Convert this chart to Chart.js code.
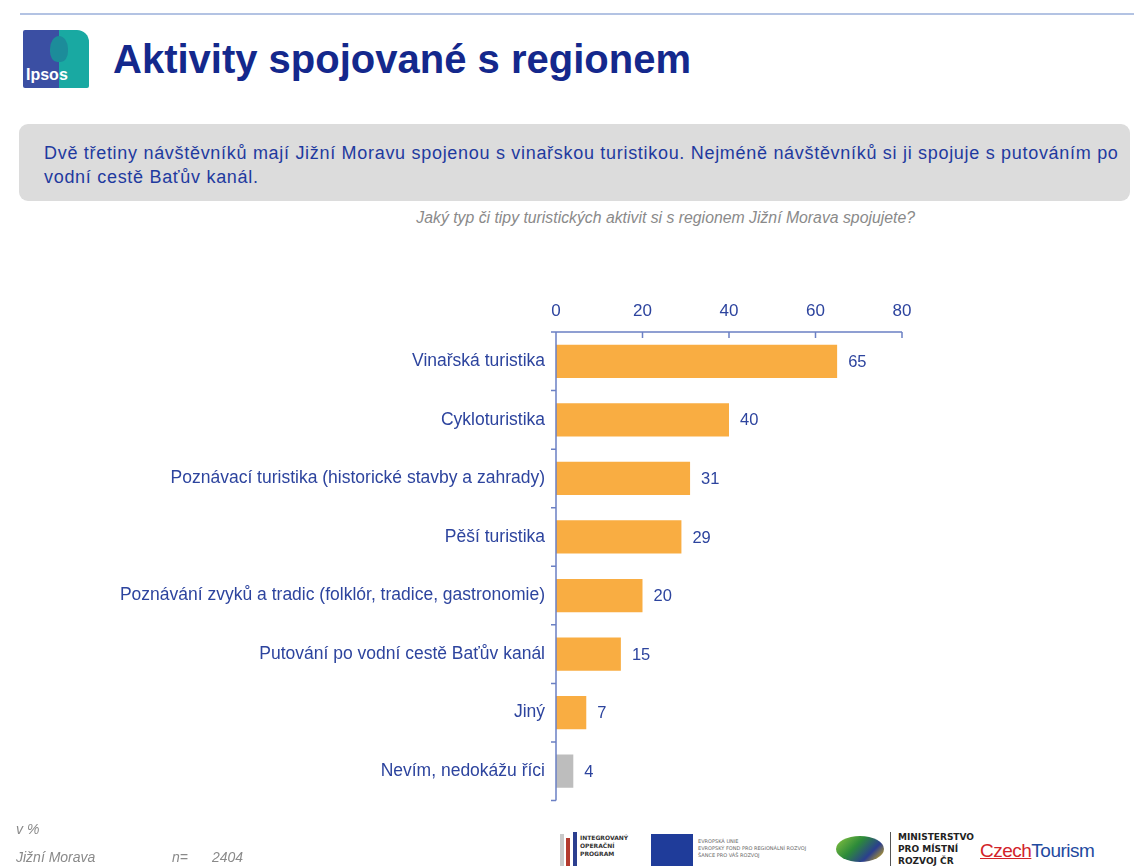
<!DOCTYPE html>
<html>
<head>
<meta charset="utf-8">
<script src="https://cdn.jsdelivr.net/npm/chart.js@4.4.1/dist/chart.umd.min.js"></script>
<style>
  html,body{margin:0;padding:0;background:#fff;width:1134px;height:866px;overflow:hidden;font-family:"Liberation Sans",Arial,sans-serif;}
  .abs{position:absolute;}
  #topline{left:20px;top:13px;width:1114px;height:2px;background:#b3c3e3;}
  #logo{left:23px;top:30px;width:66px;height:58px;overflow:hidden;border-radius:2px 12px 2px 2px;}
  #logo .l{position:absolute;left:0;top:0;width:36px;height:58px;background:#3b4fa3;}
  #logo .r{position:absolute;left:36px;top:0;width:30px;height:58px;background:#19a9a2;}
  #logo .h{position:absolute;left:27px;top:6px;width:18px;height:26px;border-radius:50% 50% 40% 40%;background:#1c8c9a;}
  #logo .t{position:absolute;left:3px;top:36px;color:#fff;font:bold 16px "Liberation Sans",Arial;}
  #title{left:113px;top:37px;font:bold 40px "Liberation Sans",Arial;color:#14288c;white-space:nowrap;}
  #box{left:19px;top:124px;width:1111px;height:77px;background:#dcdcdc;border-radius:9px;}
  #boxtext{left:44px;top:141px;width:1080px;font:18px "Liberation Sans",Arial;letter-spacing:0.7px;color:#1f3a9f;line-height:24px;}
  #question{left:300px;top:209px;width:615px;text-align:right;font:italic 15.8px "Liberation Sans",Arial;color:#8a8a8a;white-space:nowrap;}
  #chartwrap{left:0;top:290px;width:1134px;height:532px;}
  .foot{font:italic 14px "Liberation Sans",Arial;color:#8a8a8a;white-space:nowrap;}
</style>
</head>
<body>
<div class="abs" id="topline"></div>
<div class="abs" id="logo"><div class="l"></div><div class="r"></div><div class="h"></div><div class="t">Ipsos</div></div>
<div class="abs" id="title">Aktivity spojované s regionem</div>
<div class="abs" id="box"></div>
<div class="abs" id="boxtext">Dvě třetiny návštěvníků mají Jižní Moravu spojenou s vinařskou turistikou. Nejméně návštěvníků si ji spojuje s putováním po vodní cestě Baťův kanál.</div>
<div class="abs" id="question">Jaký typ či tipy turistických aktivit si s regionem Jižní Morava spojujete?</div>
<div class="abs" id="chartwrap"><canvas id="c" width="1134" height="532"></canvas></div>

<div class="abs foot" style="left:16px;top:821px;">v %</div>
<div class="abs foot" style="left:16px;top:849px;">Jižní Morava</div>
<div class="abs foot" style="left:172px;top:849px;">n=</div>
<div class="abs foot" style="left:212px;top:849px;">2404</div>

<!-- partner logos (approximate) -->
<div class="abs" style="left:560px;top:834px;width:4px;height:32px;background:#c9c9c9;"></div>
<div class="abs" style="left:566px;top:838px;width:4px;height:28px;background:#b33a2e;"></div>
<div class="abs" style="left:573px;top:832px;width:4px;height:34px;background:#2c3f8f;"></div>
<div class="abs" style="left:580px;top:834px;font:bold 6px 'DejaVu Sans';color:#333;line-height:8px;">INTEGROVANÝ<br>OPERAČNÍ<br>PROGRAM</div>
<div class="abs" style="left:651px;top:834px;width:42px;height:32px;background:#1f3c9a;"></div>
<div class="abs" style="left:698px;top:838px;font:5px 'DejaVu Sans';color:#666;line-height:7px;white-space:nowrap;">EVROPSKÁ UNIE<br>EVROPSKÝ FOND PRO REGIONÁLNÍ ROZVOJ<br>ŠANCE PRO VÁŠ ROZVOJ</div>
<div class="abs" style="left:836px;top:836px;width:48px;height:26px;border-radius:50%;background:linear-gradient(135deg,#8cc63f 0%,#2c8a3a 40%,#2b3f8f 70%,#f2c200 100%);"></div>
<div class="abs" style="left:890px;top:832px;width:1px;height:34px;background:#555;"></div>
<div class="abs" style="left:898px;top:831px;font:bold 9px 'DejaVu Sans';color:#222;line-height:12px;white-space:nowrap;">MINISTERSTVO<br>PRO MÍSTNÍ<br>ROZVOJ ČR</div>
<div class="abs" style="left:980px;top:840px;font:19px 'Liberation Sans',Arial;white-space:nowrap;letter-spacing:-0.5px;"><span style="color:#d2232a;text-decoration:underline;">Czech</span><span style="color:#1f4aa0;">Tourism</span></div>

<script>
const categories = [
  "Vinařská turistika",
  "Cykloturistika",
  "Poznávací turistika (historické stavby a zahrady)",
  "Pěší turistika",
  "Poznávání zvyků a tradic (folklór, tradice, gastronomie)",
  "Putování po vodní cestě Baťův kanál",
  "Jiný",
  "Nevím, nedokážu říci"
];
const values = [65, 40, 31, 29, 20, 15, 7, 4];
const xTicks = [0, 20, 40, 60, 80];
const barColors = ["#f9ad42","#f9ad42","#f9ad42","#f9ad42","#f9ad42","#f9ad42","#f9ad42","#bdbdbd"];

const textBlue = "#2d449e";
const axisBlue = "#6b80c4";

const valueLabels = {
  id: 'valueLabels',
  afterDatasetsDraw(chart) {
    const ctx = chart.ctx;
    const meta = chart.getDatasetMeta(0);
    ctx.save();
    ctx.font = '16.5px "Liberation Sans", Arial';
    ctx.fillStyle = textBlue;
    ctx.textAlign = 'left';
    ctx.textBaseline = 'middle';
    meta.data.forEach((bar, i) => {
      ctx.fillText(String(values[i]), bar.x + 11, bar.y + 1);
    });
    ctx.restore();
  }
};

const axisMarks = {
  id: 'axisMarks',
  afterDraw(chart) {
    const ctx = chart.ctx;
    const xs = chart.scales.x, ys = chart.scales.y;
    const top = chart.chartArea.top, bottom = chart.chartArea.bottom, left = chart.chartArea.left;
    ctx.save();
    ctx.strokeStyle = axisBlue;
    ctx.lineWidth = 1.5;
    ctx.beginPath();
    ctx.moveTo(xs.getPixelForValue(0) - 1, top);
    ctx.lineTo(xs.getPixelForValue(80), top);
    xTicks.forEach(v => {
      const px = xs.getPixelForValue(v);
      ctx.moveTo(px, top);
      ctx.lineTo(px, top + 6);
    });
    ctx.moveTo(left, top);
    ctx.lineTo(left, bottom);
    for (let i = 0; i <= categories.length; i++) {
      const py = ys.getPixelForValue(i - 0.5);
      ctx.moveTo(left, py);
      ctx.lineTo(left - 5, py);
    }
    ctx.stroke();
    ctx.restore();
  }
};

new Chart(document.getElementById('c'), {
  type: 'bar',
  data: {
    labels: categories,
    datasets: [{
      data: values,
      backgroundColor: barColors,
      borderWidth: 0,
      barPercentage: 0.7,
      categoryPercentage: 0.81
    }]
  },
  options: {
    indexAxis: 'y',
    responsive: false,
    animation: false,
    events: [],
    layout: { padding: { left: 0, right: 232, top: 0, bottom: 0 } },
    plugins: { legend: { display: false }, tooltip: { enabled: false } },
    scales: {
      x: {
        position: 'top',
        min: 0, max: 80,
        afterBuildTicks(scale) { scale.ticks = xTicks.map(v => ({ value: v })); },
        afterFit(scale) { scale.height = 42; },
        grid: { display: false, drawTicks: false },
        border: { display: false },
        ticks: {
          color: textBlue,
          font: { family: '"Liberation Sans", Arial', size: 17 },
          padding: 10
        }
      },
      y: {
        afterFit(scale) { scale.width = 556; },
        grid: { display: false, drawTicks: false },
        border: { display: false },
        ticks: {
          color: textBlue,
          font: { family: '"Liberation Sans", Arial', size: 17.5 },
          padding: 11
        }
      }
    }
  },
  plugins: [valueLabels, axisMarks]
});
</script>
</body>
</html>
